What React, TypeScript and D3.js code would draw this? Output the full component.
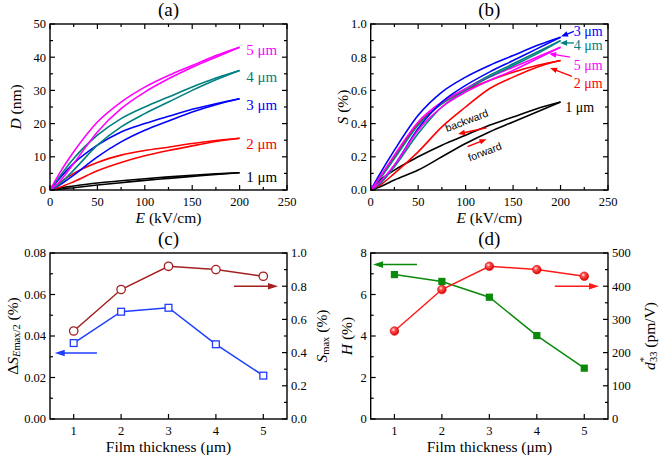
import React from "react";
import * as d3 from "d3";

// ---------- data ----------
const E = [0, 10, 25, 50, 75, 100, 125, 150, 175, 200];
const thicknessLabels = ["1 μm", "2 μm", "3 μm", "4 μm", "5 μm"];
const curveColors = ["#000000", "#ff0000", "#0000ff", "#008080", "#ff00ff"];

// panel (a) displacement D (nm): backward (upper) / forward (lower) branches
const D1Up = [0, 0.6, 1.2, 2.1, 2.8, 3.4, 3.95, 4.45, 4.85, 5.2];
const D1Lo = [0, 0.25, 0.7, 1.5, 2.2, 2.9, 3.5, 4.1, 4.7, 5.2];
const D2Up = [0, 2.2, 5.0, 8.3, 10.5, 11.9, 12.9, 14.0, 14.9, 15.6];
const D2Lo = [0, 0.8, 2.5, 5.8, 8.3, 10.3, 11.9, 13.3, 14.6, 15.6];
const D3Up = [0, 3.5, 8.0, 13.5, 17.5, 20.0, 22.2, 24.3, 26.0, 27.5];
const D3Lo = [0, 1.5, 4.5, 10.0, 14.5, 18.0, 20.8, 23.5, 25.7, 27.5];
const D4Up = [0, 4.0, 9.5, 16.5, 21.5, 25.0, 28.0, 31.0, 33.7, 36.0];
const D4Lo = [0, 1.8, 6.0, 13.5, 19.0, 23.0, 26.5, 30.0, 33.2, 36.0];
const D5Up = [0, 5.0, 11.5, 20.5, 26.5, 31.0, 34.5, 37.5, 40.5, 43.0];
const D5Lo = [0, 2.5, 8.0, 17.5, 24.5, 29.5, 33.5, 37.0, 40.0, 43.0];

// panel (b) strain S (%)
const S1Up = [0, 0.06, 0.12, 0.2, 0.27, 0.33, 0.39, 0.44, 0.49, 0.53];
const S1Lo = [0, 0.02, 0.06, 0.12, 0.2, 0.28, 0.35, 0.41, 0.47, 0.53];
const S2Up = [0, 0.08, 0.2, 0.4, 0.52, 0.6, 0.66, 0.71, 0.75, 0.78];
const S2Lo = [0, 0.03, 0.1, 0.23, 0.38, 0.5, 0.61, 0.68, 0.74, 0.78];
const S3Up = [0, 0.1, 0.24, 0.45, 0.59, 0.68, 0.75, 0.81, 0.87, 0.92];
const S3Lo = [0, 0.04, 0.15, 0.37, 0.53, 0.63, 0.71, 0.78, 0.85, 0.92];
const S4Up = [0, 0.07, 0.19, 0.39, 0.52, 0.61, 0.69, 0.76, 0.83, 0.9];
const S4Lo = [0, 0.04, 0.14, 0.34, 0.5, 0.6, 0.68, 0.75, 0.82, 0.9];
const S5Up = [0, 0.08, 0.21, 0.41, 0.53, 0.61, 0.68, 0.74, 0.8, 0.86];
const S5Lo = [0, 0.05, 0.15, 0.36, 0.5, 0.59, 0.66, 0.72, 0.79, 0.86];

// panels (c), (d)
const thickness = [1, 2, 3, 4, 5];
const deltaS = [0.0366, 0.0517, 0.0536, 0.036, 0.0209];
const Smax = [0.53, 0.78, 0.92, 0.9, 0.86];
const Hyst = [6.96, 6.63, 5.87, 4.02, 2.45];
const d33 = [265, 390, 460, 450, 430];

// ticks
const eTicks = [0, 50, 100, 150, 200, 250];
const dTicks = [0, 10, 20, 30, 40, 50];
const sTicks = [0, 0.2, 0.4, 0.6, 0.8, 1.0];
const dsTicks = [0, 0.02, 0.04, 0.06, 0.08];
const hTicks = [0, 2, 4, 6, 8];
const d33Ticks = [0, 100, 200, 300, 400, 500];

const SERIF = "Liberation Serif, Tinos, Times New Roman, Times, DejaVu Serif, serif";
const SANS = "Liberation Sans, Arimo, Arial, sans-serif";

const DUp = [D1Up, D2Up, D3Up, D4Up, D5Up];
const DLo = [D1Lo, D2Lo, D3Lo, D4Lo, D5Lo];
const SUp = [S1Up, S2Up, S3Up, S4Up, S5Up];
const SLo = [S1Lo, S2Lo, S3Lo, S4Lo, S5Lo];

type Box = { l: number; r: number; t: number; b: number };
const boxA: Box = { l: 50, r: 287, t: 24, b: 190 };
const boxB: Box = { l: 370.7, r: 608, t: 24, b: 190 };
const boxC: Box = { l: 50, r: 287, t: 253, b: 419 };
const boxD: Box = { l: 370.7, r: 608, t: 253, b: 419 };

const MAJ = 5;
const MIN = 3;

function minorsOf(ticks: number[]) {
  const out: number[] = [];
  for (let i = 0; i < ticks.length - 1; i++) out.push((ticks[i] + ticks[i + 1]) / 2);
  return out;
}

function XAxis({ box, x, ticks, minor, fmt, top = true }: any) {
  const els: any[] = [];
  const all = [...ticks.map((t: number) => [t, MAJ]), ...(minor || []).map((t: number) => [t, MIN])];
  all.forEach(([t, len]: any, i: number) => {
    const px = x(t);
    els.push(<line key={"b" + i} x1={px} x2={px} y1={box.b} y2={box.b - len} stroke="#000" strokeWidth={1.2} />);
    if (top) els.push(<line key={"t" + i} x1={px} x2={px} y1={box.t} y2={box.t + len} stroke="#000" strokeWidth={1.2} />);
  });
  ticks.forEach((t: number, i: number) => {
    els.push(
      <text key={"l" + i} x={x(t)} y={box.b + 16} textAnchor="middle" fontSize={12.5} fontFamily={SERIF}>
        {fmt(t)}
      </text>
    );
  });
  return <g>{els}</g>;
}

function YAxis({ box, y, ticks, minor, fmt, side = "left", labels = true }: any) {
  const els: any[] = [];
  const all = [...ticks.map((t: number) => [t, MAJ]), ...(minor || []).map((t: number) => [t, MIN])];
  const x0 = side === "left" ? box.l : box.r;
  const dir = side === "left" ? 1 : -1;
  all.forEach(([t, len]: any, i: number) => {
    const py = y(t);
    els.push(<line key={"k" + i} x1={x0} x2={x0 + dir * len} y1={py} y2={py} stroke="#000" strokeWidth={1.2} />);
  });
  if (labels)
    ticks.forEach((t: number, i: number) => {
      els.push(
        <text
          key={"l" + i}
          x={side === "left" ? x0 - 4 : x0 + 4}
          y={y(t)}
          dy="0.35em"
          textAnchor={side === "left" ? "end" : "start"}
          fontSize={12.5}
          fontFamily={SERIF}
        >
          {fmt(t)}
        </text>
      );
    });
  return <g>{els}</g>;
}

function Frame({ box }: { box: Box }) {
  return <rect x={box.l} y={box.t} width={box.r - box.l} height={box.b - box.t} fill="none" stroke="#000" strokeWidth={1.4} />;
}

function Arrow({ x1, y1, x2, y2, color, hl = 9, hw = 3.2, sw = 1.5 }: any) {
  const dx = x2 - x1, dy = y2 - y1;
  const L = Math.hypot(dx, dy);
  const ux = dx / L, uy = dy / L;
  const bx = x2 - ux * hl, by = y2 - uy * hl;
  const px = -uy, py = ux;
  return (
    <g>
      <line x1={x1} y1={y1} x2={bx + ux * 1} y2={by + uy * 1} stroke={color} strokeWidth={sw} />
      <polygon points={`${x2},${y2} ${bx + px * hw},${by + py * hw} ${bx - px * hw},${by - py * hw}`} fill={color} />
    </g>
  );
}

function PanelTitle({ box, text }: { box: Box; text: string }) {
  return (
    <text x={(box.l + box.r) / 2} y={box.t - 8} textAnchor="middle" fontSize={19} fontFamily={SERIF}>
      {text}
    </text>
  );
}

function XTitle({ box, children }: any) {
  return (
    <text x={(box.l + box.r) / 2} y={box.b + 33} textAnchor="middle" fontSize={15.5} fontFamily={SERIF}>
      {children}
    </text>
  );
}

function YTitle({ x, box, children }: any) {
  const cy = (box.t + box.b) / 2;
  return (
    <text transform={`translate(${x},${cy}) rotate(-90)`} textAnchor="middle" dominantBaseline="central" fontSize={15.5} fontFamily={SERIF}>
      {children}
    </text>
  );
}

export default function App() {
  const xA = d3.scaleLinear().domain([0, 250]).range([boxA.l, boxA.r]);
  const yA = d3.scaleLinear().domain([0, 50]).range([boxA.b, boxA.t]);
  const xB = d3.scaleLinear().domain([0, 250]).range([boxB.l, boxB.r]);
  const yB = d3.scaleLinear().domain([0, 1]).range([boxB.b, boxB.t]);
  const xC = d3.scaleLinear().domain([0.5, 5.5]).range([boxC.l, boxC.r]);
  const yCL = d3.scaleLinear().domain([0, 0.08]).range([boxC.b, boxC.t]);
  const yCR = d3.scaleLinear().domain([0, 1]).range([boxC.b, boxC.t]);
  const xD = d3.scaleLinear().domain([0.5, 5.5]).range([boxD.l, boxD.r]);
  const yDL = d3.scaleLinear().domain([0, 8]).range([boxD.b, boxD.t]);
  const yDR = d3.scaleLinear().domain([0, 500]).range([boxD.b, boxD.t]);

  const lineA = d3.line<number>().x((_, i) => xA(E[i])).y((v) => yA(v)).curve(d3.curveMonotoneX);
  const lineB = d3.line<number>().x((_, i) => xB(E[i])).y((v) => yB(v)).curve(d3.curveMonotoneX);
  const lineC1 = d3.line<number>().x((_, i) => xC(thickness[i])).y((v) => yCL(v));
  const lineC2 = d3.line<number>().x((_, i) => xC(thickness[i])).y((v) => yCR(v));
  const lineD1 = d3.line<number>().x((_, i) => xD(thickness[i])).y((v) => yDL(v));
  const lineD2 = d3.line<number>().x((_, i) => xD(thickness[i])).y((v) => yDR(v));

  const f0 = d3.format("d");
  const f1 = d3.format(".1f");
  const f2 = d3.format(".2f");

  const darkRed = "#a3201f";
  const blueC = "#1f3dff";
  const green = "#0a8a0a";

  const labelAy = [3.9, 14.0, 25.6, 34.1, 42.3];
  const labelB = [
    { E: 205, S: 0.5, arrow: null },
    { E: 214, S: 0.645, arrow: [212, 0.685, 189, 0.735] },
    { E: 214, S: 0.955, arrow: [214, 0.955, 200.5, 0.925] },
    { E: 214, S: 0.87, arrow: [214, 0.886, 199.5, 0.886] },
    { E: 214, S: 0.75, arrow: [210, 0.8, 188, 0.821] },
  ];

  return (
    <svg width={660} height={456} style={{ position: "fixed", left: 0, top: 0, background: "#fff", fontFamily: SERIF }}>
      <defs>
        <radialGradient id="ball" cx="38%" cy="35%" r="65%">
          <stop offset="0%" stopColor="#ffffff" />
          <stop offset="30%" stopColor="#ff5a5a" />
          <stop offset="100%" stopColor="#e00000" />
        </radialGradient>
      </defs>
      <rect width={660} height={456} fill="#fff" />

      {/* ---------- (a) ---------- */}
      <g>
        {DUp.map((arr, i) => (
          <path key={"au" + i} d={lineA(arr) || ""} fill="none" stroke={curveColors[i]} strokeWidth={1.6} />
        ))}
        {DLo.map((arr, i) => (
          <path key={"al" + i} d={lineA(arr) || ""} fill="none" stroke={curveColors[i]} strokeWidth={1.6} />
        ))}
        <Frame box={boxA} />
        <XAxis box={boxA} x={xA} ticks={eTicks} minor={minorsOf(eTicks)} fmt={f0} />
        <YAxis box={boxA} y={yA} ticks={dTicks} minor={minorsOf(dTicks)} fmt={f0} />
        <YAxis box={boxA} y={yA} ticks={dTicks} minor={minorsOf(dTicks)} fmt={f0} side="right" labels={false} />
        {thicknessLabels.map((t, i) => (
          <text key={"la" + i} x={xA(207)} y={yA(labelAy[i])} dy="0.35em" fontSize={15} fontFamily={SERIF} fill={curveColors[i]}>
            {t}
          </text>
        ))}
        <PanelTitle box={boxA} text="(a)" />
        <XTitle box={boxA}>
          <tspan fontStyle="italic">E</tspan> (kV/cm)
        </XTitle>
        <YTitle x={15} box={boxA}>
          <tspan fontStyle="italic">D</tspan> (nm)
        </YTitle>
      </g>

      {/* ---------- (b) ---------- */}
      <g>
        {SUp.map((arr, i) => (
          <path key={"bu" + i} d={lineB(arr) || ""} fill="none" stroke={curveColors[i]} strokeWidth={1.6} />
        ))}
        {SLo.map((arr, i) => (
          <path key={"bl" + i} d={lineB(arr) || ""} fill="none" stroke={curveColors[i]} strokeWidth={1.6} />
        ))}
        <Frame box={boxB} />
        <XAxis box={boxB} x={xB} ticks={eTicks} minor={minorsOf(eTicks)} fmt={f0} />
        <YAxis box={boxB} y={yB} ticks={sTicks} minor={minorsOf(sTicks)} fmt={f1} />
        <YAxis box={boxB} y={yB} ticks={sTicks} minor={minorsOf(sTicks)} fmt={f1} side="right" labels={false} />
        {labelB.map((lb, i) => (
          <g key={"lb" + i}>
            {lb.arrow && (
              <Arrow
                x1={xB(lb.arrow[0])}
                y1={yB(lb.arrow[1])}
                x2={xB(lb.arrow[2])}
                y2={yB(lb.arrow[3])}
                color={curveColors[i]}
                hl={7}
                hw={2.8}
                sw={1.3}
              />
            )}
            <text x={xB(lb.E)} y={yB(lb.S)} dy="0.33em" fontSize={14} fontFamily={SERIF} fill={curveColors[i]}>
              {thicknessLabels[i]}
            </text>
          </g>
        ))}
        <text transform={`translate(${xB(101)},${yB(0.42)}) rotate(-21)`} textAnchor="middle" dominantBaseline="central" fontSize={10.5} fontFamily={SANS}>
          backward
        </text>
        <text transform={`translate(${xB(120)},${yB(0.232)}) rotate(-21)`} textAnchor="middle" dominantBaseline="central" fontSize={10.5} fontFamily={SANS}>
          forward
        </text>
        <Arrow x1={xB(122)} y1={yB(0.375)} x2={xB(92)} y2={yB(0.337)} color="#ff0000" hl={7} hw={2.8} sw={1.5} />
        <Arrow x1={xB(102)} y1={yB(0.261)} x2={xB(122)} y2={yB(0.306)} color="#ff0000" hl={7} hw={2.8} sw={1.5} />
        <PanelTitle box={boxB} text="(b)" />
        <XTitle box={boxB}>
          <tspan fontStyle="italic">E</tspan> (kV/cm)
        </XTitle>
        <YTitle x={342} box={boxB}>
          <tspan fontStyle="italic">S</tspan> (%)
        </YTitle>
      </g>

      {/* ---------- (c) ---------- */}
      <g>
        <Frame box={boxC} />
        <XAxis box={boxC} x={xC} ticks={thickness} minor={[]} fmt={f0} top={false} />
        <YAxis box={boxC} y={yCL} ticks={dsTicks} minor={minorsOf(dsTicks)} fmt={f2} />
        <YAxis box={boxC} y={yCR} ticks={sTicks} minor={minorsOf(sTicks)} fmt={f1} side="right" />
        <path d={lineC2(Smax) || ""} fill="none" stroke={darkRed} strokeWidth={1.5} />
        <path d={lineC1(deltaS) || ""} fill="none" stroke={blueC} strokeWidth={1.5} />
        {Smax.map((v, i) => (
          <circle key={"cc" + i} cx={xC(thickness[i])} cy={yCR(v)} r={4.2} fill="#fff" stroke={darkRed} strokeWidth={1.3} />
        ))}
        {deltaS.map((v, i) => (
          <rect key={"cs" + i} x={xC(thickness[i]) - 3.4} y={yCL(v) - 3.4} width={6.8} height={6.8} fill="#fff" stroke={blueC} strokeWidth={1.3} />
        ))}
        <Arrow x1={xC(4.38)} y1={yCR(0.8)} x2={xC(5.31)} y2={yCR(0.8)} color={darkRed} hl={10} hw={3.3} sw={1.5} />
        <Arrow x1={xC(1.49)} y1={yCL(0.0318)} x2={xC(0.6)} y2={yCL(0.0318)} color={blueC} hl={10} hw={3.3} sw={1.5} />
        <PanelTitle box={boxC} text="(c)" />
        <XTitle box={boxC}>Film thickness (μm)</XTitle>
        <YTitle x={12} box={boxC}>
          <tspan>Δ</tspan>
          <tspan fontStyle="italic">S</tspan>
          <tspan fontSize={10.5} dy={4}>
            <tspan fontStyle="italic">E</tspan>max/2
          </tspan>
          <tspan dy={-4}> (%)</tspan>
        </YTitle>
        <YTitle x={321} box={boxC}>
          <tspan fontStyle="italic">S</tspan>
          <tspan fontSize={10.5} dy={4}>max</tspan>
          <tspan dy={-4}> (%)</tspan>
        </YTitle>
      </g>

      {/* ---------- (d) ---------- */}
      <g>
        <Frame box={boxD} />
        <XAxis box={boxD} x={xD} ticks={thickness} minor={[]} fmt={f0} top={false} />
        <YAxis box={boxD} y={yDL} ticks={hTicks} minor={minorsOf(hTicks)} fmt={f0} />
        <YAxis box={boxD} y={yDR} ticks={d33Ticks} minor={minorsOf(d33Ticks)} fmt={f0} side="right" />
        <path d={lineD1(Hyst) || ""} fill="none" stroke={green} strokeWidth={1.5} />
        <path d={lineD2(d33) || ""} fill="none" stroke="#ff1a1a" strokeWidth={1.5} />
        {Hyst.map((v, i) => (
          <rect key={"ds" + i} x={xD(thickness[i]) - 3.6} y={yDL(v) - 3.6} width={7.2} height={7.2} fill={green} />
        ))}
        {d33.map((v, i) => (
          <circle key={"dc" + i} cx={xD(thickness[i])} cy={yDR(v)} r={4.3} fill="url(#ball)" stroke="#d00000" strokeWidth={0.6} />
        ))}
        <Arrow x1={xD(1.476)} y1={yDL(7.44)} x2={xD(0.55)} y2={yDL(7.44)} color={green} hl={10} hw={3.3} sw={1.5} />
        <Arrow x1={xD(4.38)} y1={yDR(400)} x2={xD(5.31)} y2={yDR(400)} color="#ff1a1a" hl={10} hw={3.3} sw={1.5} />
        <PanelTitle box={boxD} text="(d)" />
        <XTitle box={boxD}>Film thickness (μm)</XTitle>
        <YTitle x={346} box={boxD}>
          <tspan fontStyle="italic">H</tspan> (%)
        </YTitle>
        <YTitle x={649} box={boxD}>
          <tspan fontStyle="italic">d</tspan>
          <tspan fontSize={10.5} dy={-6}>*</tspan>
          <tspan fontSize={10.5} dx={-5} dy={10}>33</tspan>
          <tspan dy={-4}> (pm/V)</tspan>
        </YTitle>
      </g>
    </svg>
  );
}
